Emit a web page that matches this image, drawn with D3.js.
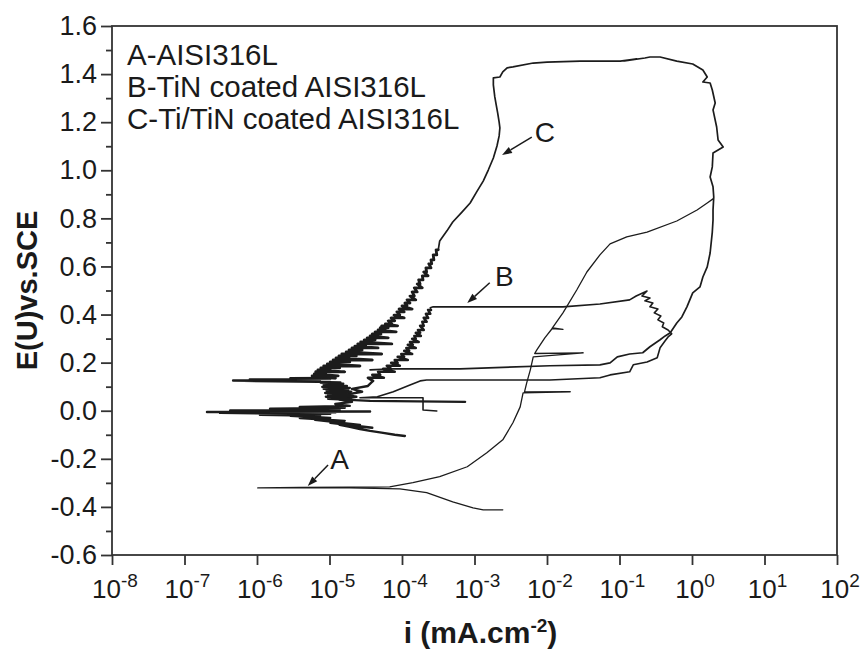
<!DOCTYPE html>
<html>
<head>
<meta charset="utf-8">
<script src="https://cdn.jsdelivr.net/npm/d3@7"></script>
<style>
  body { margin: 0; background: #fff; }
  text { font-family: "Liberation Sans", Arial, sans-serif; fill: #1a1a1a; }
</style>
</head>
<body>
<svg id="chart" width="860" height="653"></svg>
<script>
// Potentiodynamic polarisation curves. Points are [log10(i / mA.cm-2), E / V vs SCE].

// Axis ticks
const xExponents = [-8, -7, -6, -5, -4, -3, -2, -1, 0, 1, 2];
const yMajorTicks = [-0.6, -0.4, -0.2, 0.0, 0.2, 0.4, 0.6, 0.8, 1.0, 1.2, 1.4, 1.6];
const yMinorTicks = [-0.5, -0.3, -0.1, 0.1, 0.3, 0.5, 0.7, 0.9, 1.1, 1.3, 1.5];

const legendLines = ["A-AISI316L", "B-TiN coated AISI316L", "C-Ti/TiN coated AISI316L"];

// A: bare AISI316L (cathodic branch -> Ecorr -> anodic branch)
const curveA = [
  [-2.61,-0.412],[-2.88,-0.412],[-3.02,-0.404],[-3.30,-0.379],[-3.66,-0.341],[-4.03,-0.325],
  [-4.72,-0.321],[-5.41,-0.321],[-5.99,-0.321],[-5.41,-0.319],[-4.72,-0.318],[-4.17,-0.317],
  [-3.85,-0.299],[-3.48,-0.274],[-3.10,-0.233],[-2.83,-0.175],[-2.61,-0.121],[-2.47,-0.050],
  [-2.37,0.016],[-2.33,0.074],[-1.68,0.079],[-2.31,0.078],[-2.28,0.116],[-2.23,0.170],
  [-2.19,0.224],[-1.50,0.241],[-2.17,0.238],[-2.14,0.253],[-2.03,0.303],[-1.92,0.345],
  [-1.78,0.338],[-1.93,0.342],[-1.78,0.407],[-1.59,0.502],[-1.45,0.577],[-1.27,0.648],
  [-1.13,0.694],[-0.90,0.723],[-0.62,0.743],[-0.21,0.789],[0.07,0.835],[0.21,0.864],[0.29,0.881]
];

// B: TiN coated AISI316L
const curveBCathodic = [
  [-3.96,-0.105],[-4.10,-0.100],[-4.26,-0.092],[-4.44,-0.084],[-4.58,-0.076],[-4.72,-0.067],
  [-4.86,-0.059],[-4.41,-0.071],[-4.99,-0.050],[-4.58,-0.059],[-5.20,-0.038],[-4.79,-0.042],
  [-5.41,-0.030],[-4.99,-0.030],[-5.54,-0.021],[-5.13,-0.021],[-5.96,-0.017],[-4.99,-0.013],
  [-6.51,-0.009],[-4.92,-0.007],[-6.69,-0.005],[-4.44,-0.003],[-6.37,0.001],[-4.86,0.003],
  [-5.82,0.008],[-4.79,0.012],[-5.41,0.016],[-4.72,0.020],[-4.92,0.028],[-4.69,0.037],
  [-4.86,0.046],[-4.63,0.058],[-4.79,0.066],[-4.55,0.079],[-4.69,0.091],[-4.47,0.103],[-4.40,0.124]
];
// noisy passive band: [E, lowest log10(i), highest log10(i)] at each step
const curveBBand = [
  [0.137,-4.47,-4.25],[0.149,-4.41,-4.30],[0.162,-4.33,-4.10],[0.174,-4.26,-4.15],
  [0.187,-4.21,-4.03],[0.199,-4.15,-4.06],[0.211,-4.10,-3.92],[0.224,-4.06,-3.97],
  [0.236,-4.01,-3.86],[0.249,-3.97,-3.90],[0.261,-3.94,-3.81],[0.274,-3.92,-3.85],
  [0.286,-3.89,-3.77],[0.299,-3.86,-3.81],[0.311,-3.83,-3.74],[0.324,-3.81,-3.75],
  [0.336,-3.78,-3.70],[0.353,-3.75,-3.70],[0.370,-3.72,-3.66],[0.386,-3.70,-3.64],
  [0.403,-3.67,-3.61],[0.419,-3.64,-3.60]
];
const curveBAnodic = [
  [-3.61,0.428],[-3.57,0.432],[-2.65,0.432],[-1.78,0.432],[-1.27,0.444],[-0.86,0.461],
  [-0.77,0.477],[-0.68,0.490],[-0.62,0.498],[-0.69,0.477],[-0.58,0.469],[-0.65,0.457],
  [-0.54,0.448],[-0.58,0.432],[-0.47,0.423],[-0.52,0.407],[-0.43,0.394],[-0.47,0.378],
  [-0.39,0.365],[-0.41,0.349],[-0.33,0.336],[-0.28,0.320],
  [-0.33,0.307],[-0.37,0.291],[-0.44,0.262],[-0.48,0.220],[-0.62,0.203],[-0.81,0.191],
  [-0.86,0.162],[-1.13,0.149],[-1.27,0.137],[-1.96,0.128],[-3.20,0.128],[-3.66,0.128],
  [-3.75,0.124],[-3.89,0.107],[-4.12,0.079],[-4.34,0.058],[-4.58,0.054],[-3.71,0.054],
  [-3.71,0.003],[-3.52,-0.001]
];

// C: Ti/TiN coated AISI316L
const curveCCathodic = [
  [-3.13,0.037],[-4.44,0.041],[-4.79,0.046],[-5.02,0.050],[-4.70,0.054],[-5.05,0.058],
  [-4.68,0.062],[-5.02,0.066],[-4.72,0.070],[-5.06,0.074],[-4.70,0.079],[-5.04,0.083],
  [-4.74,0.087],[-5.08,0.091],[-4.72,0.095],[-5.10,0.099],[-4.76,0.103],[-5.08,0.107],
  [-4.81,0.112],[-5.12,0.116],[-4.85,0.118],[-5.16,0.120],[-6.19,0.124],[-5.27,0.122],
  [-6.33,0.126],[-5.13,0.128],[-6.10,0.130],[-4.99,0.132],[-5.54,0.135],[-4.92,0.136]
];
const curveCBand = [
  [0.145,-5.24,-4.88],[0.153,-5.21,-5.05],[0.162,-5.19,-4.79],[0.170,-5.16,-4.99],
  [0.178,-5.12,-4.86],[0.186,-5.08,-4.58],[0.195,-5.03,-4.88],[0.203,-4.99,-4.72],
  [0.211,-4.95,-4.41],[0.220,-4.91,-4.73],[0.228,-4.87,-4.63],[0.236,-4.83,-4.28],
  [0.245,-4.77,-4.62],[0.253,-4.73,-4.55],[0.261,-4.69,-4.33],[0.269,-4.65,-4.50],
  [0.278,-4.61,-4.14],[0.286,-4.57,-4.44],[0.295,-4.52,-4.37],[0.303,-4.48,-4.19],
  [0.311,-4.44,-4.33],[0.319,-4.41,-4.29],[0.328,-4.37,-4.08],[0.336,-4.33,-4.23],
  [0.345,-4.30,-4.19],[0.353,-4.28,-4.06],[0.361,-4.23,-4.14],[0.374,-4.19,-4.10],
  [0.386,-4.15,-3.97],[0.398,-4.11,-4.03],[0.411,-4.07,-3.97],[0.423,-4.04,-3.86],
  [0.436,-4.00,-3.93],[0.448,-3.96,-3.89],[0.461,-3.93,-3.81],[0.477,-3.89,-3.83],
  [0.494,-3.86,-3.79],[0.511,-3.83,-3.72],[0.527,-3.79,-3.75],[0.544,-3.77,-3.71],
  [0.561,-3.72,-3.64],[0.577,-3.70,-3.66],[0.594,-3.67,-3.60],[0.611,-3.63,-3.59],
  [0.627,-3.60,-3.56],[0.648,-3.57,-3.52],[0.669,-3.53,-3.50]
];
const curveCAnodic = [
  [-3.48,0.706],[-3.38,0.748],[-3.30,0.785],[-3.17,0.827],[-3.06,0.864],[-2.97,0.910],
  [-2.88,0.955],[-2.81,1.001],[-2.74,1.051],[-2.69,1.101],[-2.66,1.143],[-2.65,1.176],
  [-2.66,1.200],[-2.68,1.238],[-2.70,1.271],[-2.72,1.305],[-2.74,1.355],[-2.74,1.384],
  [-2.65,1.388],[-2.61,1.409],[-2.55,1.426],[-2.47,1.430],[-2.19,1.446],[-2.00,1.450],
  [-1.54,1.454],[-0.99,1.454],[-0.86,1.459],[-0.76,1.463],[-0.93,1.455],[-0.65,1.467],
  [-0.58,1.471],[-0.44,1.471],[-0.21,1.454],[0.01,1.442],[0.15,1.417],[0.21,1.388],
  [0.15,1.367],[0.25,1.363],[0.28,1.334],[0.32,1.280],[0.29,1.251],[0.34,1.180],
  [0.36,1.126],[0.43,1.097],[0.29,1.072],[0.28,1.014],[0.25,0.972],[0.29,0.931],
  [0.30,0.889],[0.29,0.835],[0.29,0.793],[0.28,0.743],[0.25,0.656],[0.21,0.598],
  [0.15,0.556],[0.11,0.515],[0.01,0.490],[-0.07,0.432],[-0.14,0.390],[-0.21,0.365],
  [-0.30,0.324],[-0.37,0.311],
  [-0.44,0.295],[-0.58,0.266],[-0.68,0.241],[-0.86,0.236],[-1.03,0.224],[-1.13,0.199],
  [-1.27,0.191],[-1.96,0.187],[-3.20,0.174],[-4.12,0.174],[-4.44,0.170]
];

// Curve labels with arrows: arrow tip, arrow tail and label centre, all in data units
const annotations = [
  { label: "A", tip: [-5.30, -0.313], tail: [-5.02, -0.226], text: [-4.86, -0.200] },
  { label: "B", tip: [-3.10, 0.448],  tail: [-2.79, 0.532],  text: [-2.59, 0.561] },
  { label: "C", tip: [-2.62, 1.063],  tail: [-2.21, 1.138],  text: [-2.03, 1.160] }
];

// ---------------------------------------------------------------
const plotLeft = 112, plotRight = 837, plotTop = 26, plotBottom = 555;

const x = d3.scaleLog().domain([1e-8, 1e2]).range([plotLeft, plotRight]);
const y = d3.scaleLinear().domain([-0.6, 1.6]).range([plotBottom, plotTop]);

const svg = d3.select("#chart");

// expand a band of [E, lo, hi] rows into a zig-zag trace
function bandTrace(rows) {
  const pts = [];
  rows.forEach(r => { pts.push([r[1], r[0]]); pts.push([r[2], r[0]]); });
  return pts;
}

const line = d3.line()
  .x(d => x(Math.pow(10, d[0])))
  .y(d => y(d[1]));

// each curve is drawn as consecutive pieces; noisy pieces get a heavier pen
function pieces(parts) {
  const out = [];
  let prev = null;
  parts.forEach(p => {
    const pts = prev ? [prev].concat(p.pts) : p.pts.slice();
    out.push({ pts, width: p.width });
    prev = pts[pts.length - 1];
  });
  return out;
}

const segs = [].concat(
  pieces([{ pts: curveA, width: 1.3 }]),
  pieces([
    { pts: curveBCathodic, width: 2.4 },
    { pts: bandTrace(curveBBand), width: 2.6 },
    { pts: curveBAnodic, width: 1.6 }
  ]),
  pieces([
    { pts: curveCCathodic, width: 2.4 },
    { pts: bandTrace(curveCBand), width: 2.8 },
    { pts: curveCAnodic, width: 1.7 }
  ])
);

svg.append("g").selectAll("path")
  .data(segs)
  .join("path")
  .attr("d", d => line(d.pts))
  .attr("fill", "none")
  .attr("stroke", "#1c1c1c")
  .attr("stroke-width", d => d.width)
  .attr("stroke-linejoin", "round")
  .attr("stroke-linecap", "round");

// frame
svg.append("rect")
  .attr("x", plotLeft).attr("y", plotTop)
  .attr("width", plotRight - plotLeft).attr("height", plotBottom - plotTop)
  .attr("fill", "none").attr("stroke", "#333").attr("stroke-width", 1.8);

// y axis
const yAxis = svg.append("g").attr("transform", `translate(${plotLeft},0)`)
  .call(d3.axisLeft(y).tickValues(yMajorTicks).tickSize(11).tickSizeOuter(0).tickPadding(4)
    .tickFormat(d => d.toFixed(1)));
yAxis.select(".domain").remove();
yAxis.selectAll("line").attr("stroke", "#333").attr("stroke-width", 1.8);
yAxis.selectAll("text").attr("font-size", 27).attr("fill", "#1a1a1a")
  .attr("font-family", '"Liberation Sans", Arial, sans-serif');

const yMinor = svg.append("g").attr("transform", `translate(${plotLeft},0)`)
  .call(d3.axisLeft(y).tickValues(yMinorTicks).tickSize(6).tickSizeOuter(0).tickFormat(""));
yMinor.select(".domain").remove();
yMinor.selectAll("line").attr("stroke", "#333").attr("stroke-width", 1.8);

// x axis
const xAxis = svg.append("g").attr("transform", `translate(0,${plotBottom})`)
  .call(d3.axisBottom(x).tickValues(xExponents.map(e => Math.pow(10, e))).tickSize(10)
    .tickSizeOuter(0).tickFormat(""));
xAxis.select(".domain").remove();
xAxis.selectAll("line").attr("stroke", "#333").attr("stroke-width", 1.8);

const xLabels = svg.append("g").selectAll("text")
  .data(xExponents)
  .join("text")
  .attr("x", e => x(Math.pow(10, e)) + 3)
  .attr("y", 598)
  .attr("text-anchor", "middle")
  .attr("font-size", 26);
xLabels.append("tspan").text("10");
xLabels.append("tspan").attr("dy", -11).attr("font-size", 19).text(e => String(e));

// axis titles
const xTitle = svg.append("text")
  .attr("x", (plotLeft + plotRight) / 2 + 6).attr("y", 643)
  .attr("text-anchor", "middle").attr("font-size", 30).attr("font-weight", "bold");
xTitle.append("tspan").text("i (mA.cm");
xTitle.append("tspan").attr("dy", -11).attr("font-size", 19).text("-2");
xTitle.append("tspan").attr("dy", 11).text(")");

svg.append("text")
  .attr("transform", `translate(37,${(plotTop + plotBottom) / 2})rotate(-90)`)
  .attr("text-anchor", "middle").attr("font-size", 29).attr("font-weight", "bold")
  .text("E(U)vs.SCE");

// legend text
svg.append("g").selectAll("text")
  .data(legendLines)
  .join("text")
  .attr("x", 127)
  .attr("y", (d, i) => 65 + i * 32)
  .attr("font-size", 29.5)
  .text(d => d);

// curve labels and arrows
const ann = svg.append("g");
annotations.forEach(a => {
  const tx = x(Math.pow(10, a.tip[0])), ty = y(a.tip[1]);
  const sx = x(Math.pow(10, a.tail[0])), sy = y(a.tail[1]);
  const ang = Math.atan2(ty - sy, tx - sx);
  const len = 10, half = 3.5;
  const bx = tx - len * Math.cos(ang), by = ty - len * Math.sin(ang);
  ann.append("line").attr("x1", sx).attr("y1", sy).attr("x2", bx).attr("y2", by)
    .attr("stroke", "#1a1a1a").attr("stroke-width", 1.5);
  ann.append("polygon")
    .attr("points", [
      [tx, ty],
      [bx + half * Math.sin(ang), by - half * Math.cos(ang)],
      [bx - half * Math.sin(ang), by + half * Math.cos(ang)]
    ].map(p => p.join(",")).join(" "))
    .attr("fill", "#1a1a1a");
  ann.append("text")
    .attr("x", x(Math.pow(10, a.text[0])))
    .attr("y", y(a.text[1]))
    .attr("dy", "0.36em")
    .attr("text-anchor", "middle")
    .attr("font-size", 28)
    .text(a.label);
});
</script>
</body>
</html>
